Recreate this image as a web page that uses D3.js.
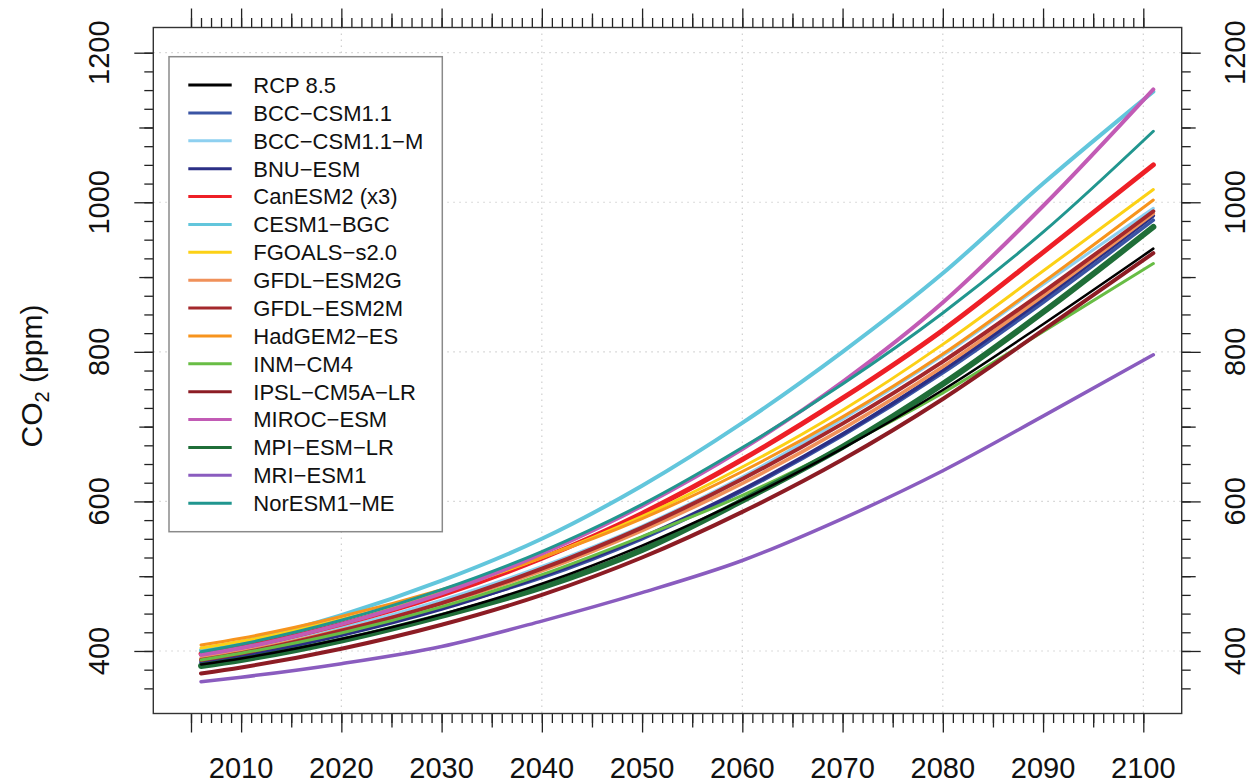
<!DOCTYPE html>
<html>
<head>
<meta charset="utf-8">
<script src="https://cdn.jsdelivr.net/npm/d3@7"></script>
<style>
  html, body { margin: 0; padding: 0; background: #fff; }
  svg { display: block; font-family: "Liberation Sans", Arial, Helvetica, sans-serif; }
</style>
</head>
<body>
<svg id="chart" width="1252" height="783"></svg>
<script>
// Sample years for each projection (CO2 in ppm)
const years = [2006, 2010, 2020, 2030, 2040, 2050, 2060, 2070, 2080, 2090, 2101];

const rcp85      = [382, 390, 416, 449, 490, 541, 602, 671, 749, 837, 938];
const bccCsm11   = [386, 395, 423, 458, 498, 550, 614, 688, 772, 866, 976];
const bccCsm11m  = [393, 402, 431, 468, 513, 567, 633, 710, 795, 890, 992];
const bnuEsm     = [384, 393, 421, 456, 500, 552, 616, 690, 775, 871, 982];
const canEsm2    = [396, 405, 436, 475, 524, 584, 656, 738, 829, 933, 1050];
const cesm1Bgc   = [401, 412, 448, 494, 550, 621, 705, 800, 905, 1025, 1148];
const fgoalsS2   = [404, 413, 442, 479, 525, 580, 646, 722, 810, 908, 1017];
const gfdlEsm2g  = [390, 399, 428, 463, 507, 561, 624, 697, 780, 875, 985];
const gfdlEsm2m  = [388, 397, 427, 464, 510, 565, 630, 704, 787, 880, 988];
const hadgem2Es  = [408, 417, 446, 482, 525, 577, 640, 713, 797, 893, 1003];
const inmCm4     = [388, 397, 424, 459, 502, 553, 608, 673, 745, 827, 918];
const ipslCm5aLr = [370, 378, 403, 435, 475, 525, 586, 656, 737, 829, 932];
const mirocEsm   = [395, 404, 436, 477, 530, 594, 670, 760, 866, 995, 1151];
const mpiEsmLr   = [380, 388, 414, 447, 485, 535, 601, 673, 757, 853, 967];
const mriEsm1    = [359, 365, 383, 406, 440, 478, 521, 577, 641, 714, 796];
const norEsm1Me  = [399, 409, 441, 482, 533, 596, 672, 757, 852, 960, 1095];

const seriesNames = [
  "RCP 8.5", "BCC\u2212CSM1.1", "BCC\u2212CSM1.1\u2212M", "BNU\u2212ESM", "CanESM2 (x3)",
  "CESM1\u2212BGC", "FGOALS\u2212s2.0", "GFDL\u2212ESM2G", "GFDL\u2212ESM2M", "HadGEM2\u2212ES",
  "INM\u2212CM4", "IPSL\u2212CM5A\u2212LR", "MIROC\u2212ESM", "MPI\u2212ESM\u2212LR", "MRI\u2212ESM1", "NorESM1\u2212ME"
];
const seriesValues = [
  rcp85, bccCsm11, bccCsm11m, bnuEsm, canEsm2, cesm1Bgc, fgoalsS2, gfdlEsm2g,
  gfdlEsm2m, hadgem2Es, inmCm4, ipslCm5aLr, mirocEsm, mpiEsmLr, mriEsm1, norEsm1Me
];
const seriesColors = [
  "#000000", "#3a54a4", "#8ed0f0", "#2b2f86", "#ee1f26", "#62c6dc", "#fcd116", "#f0915a",
  "#a4282c", "#f7941d", "#68bd45", "#8c1c24", "#c25bb5", "#1f6e38", "#8a5cbf", "#21968f"
];
// Models with a strong seasonal cycle read as wider bands
const seriesWidths = [2.5, 3.5, 3, 3.5, 5, 4, 3, 3.5, 4, 3, 3, 4, 4, 6, 3.5, 3];

const xTickLabels = [2010, 2020, 2030, 2040, 2050, 2060, 2070, 2080, 2090, 2100];
const yTickLabels = [400, 600, 800, 1000, 1200];
const xGrid = [2020, 2040, 2060, 2080, 2100];

// Plot frame
const box = { left: 153.3, right: 1181.7, top: 27.5, bottom: 713.5 };
const svg = d3.select("#chart");

const x = d3.scaleLinear().domain([2001.24, 2103.83]).range([box.left, box.right]);
const y = d3.scaleLinear().domain([316.4, 1233.7]).range([box.bottom, box.top]);

// Dotted reference grid
const grid = svg.append("g").attr("stroke", "#cfcfcf").attr("stroke-width", 1.2)
  .attr("stroke-dasharray", "1.5,4.5");
grid.selectAll("line.v").data(xGrid).join("line").attr("class", "v")
  .attr("x1", d => x(d)).attr("x2", d => x(d)).attr("y1", box.top).attr("y2", box.bottom);
grid.selectAll("line.h").data(yTickLabels).join("line").attr("class", "h")
  .attr("y1", d => y(d)).attr("y2", d => y(d)).attr("x1", box.left).attr("x2", box.right);

// Tick sets: yearly / 5-yearly / decadal on x, 25 / 100 / 200 ppm on y
const yearsAll = d3.range(2005, 2101);
const years5 = yearsAll.filter(d => d % 5 === 0 && d % 10 !== 0 && d !== 2005);
const years10 = [2005].concat(yearsAll.filter(d => d % 10 === 0));
const ppmAll = d3.range(350, 1201, 25);
const ppm100 = ppmAll.filter(d => d % 100 === 0 && d % 200 !== 0);
const ppm200 = ppmAll.filter(d => d % 200 === 0);

function tickLayer(axisFn, scale, values, size, transform) {
  const g = svg.append("g").attr("transform", transform)
    .call(axisFn(scale).tickValues(values).tickSize(size).tickSizeOuter(0).tickFormat(""));
  g.select(".domain").remove();
  g.selectAll(".tick line").attr("stroke", "#222").attr("stroke-width", 1.3);
  return g;
}
[[yearsAll, 9.5], [years5, 14], [years10, 19]].forEach(([v, s]) => {
  tickLayer(d3.axisBottom, x, v, s, `translate(0,${box.bottom})`);
  tickLayer(d3.axisTop, x, v, s, `translate(0,${box.top})`);
});
[[ppmAll, 9], [ppm100, 14], [ppm200, 19]].forEach(([v, s]) => {
  tickLayer(d3.axisLeft, y, v, s, `translate(${box.left},0)`);
  tickLayer(d3.axisRight, y, v, s, `translate(${box.right},0)`);
});

// Frame
svg.append("rect")
  .attr("x", box.left).attr("y", box.top)
  .attr("width", box.right - box.left).attr("height", box.bottom - box.top)
  .attr("fill", "none").attr("stroke", "#333").attr("stroke-width", 1.4);

// Tick labels
const labelColor = "#111";
svg.append("g").selectAll("text").data(xTickLabels).join("text")
  .attr("x", d => x(d)).attr("y", 778)
  .attr("text-anchor", "middle").attr("font-size", 29).attr("fill", labelColor)
  .text(d => d);
[[109.4], [1245.4]].forEach(([bx]) => {
  svg.append("g").selectAll("text").data(yTickLabels).join("text")
    .attr("transform", d => `translate(${bx},${y(d)}) rotate(-90)`)
    .attr("text-anchor", "middle").attr("font-size", 29).attr("fill", labelColor)
    .text(d => d);
});

// Axis title
const title = svg.append("text")
  .attr("transform", "translate(41.5,376) rotate(-90)")
  .attr("text-anchor", "middle").attr("font-size", 30).attr("fill", labelColor);
title.append("tspan").text("CO");
title.append("tspan").attr("font-size", 20).attr("dy", 7).text("2");
title.append("tspan").attr("dy", -7).text(" (ppm)");

// Projection lines
const line = d3.line()
  .x((d, i) => x(years[i]))
  .y(d => y(d))
  .curve(d3.curveMonotoneX);

const drawOrder = d3.range(1, seriesValues.length).concat([0]);
svg.append("g").attr("fill", "none").attr("stroke-linejoin", "round").attr("stroke-linecap", "round")
  .selectAll("path").data(drawOrder).join("path")
  .attr("d", i => line(seriesValues[i]))
  .attr("stroke", i => seriesColors[i])
  .attr("stroke-width", i => seriesWidths[i]);

// Legend
const legend = svg.append("g");
legend.append("rect")
  .attr("x", 169).attr("y", 56.7).attr("width", 273.3).attr("height", 475)
  .attr("fill", "#fff").attr("stroke", "#8a8a8a").attr("stroke-width", 1.5);
const rows = legend.selectAll("g.row").data(seriesNames).join("g").attr("class", "row")
  .attr("transform", (d, i) => `translate(0,${85 + i * 27.88})`);
rows.append("line")
  .attr("x1", 188.3).attr("x2", 231.7).attr("y1", 0).attr("y2", 0)
  .attr("stroke", (d, i) => seriesColors[i]).attr("stroke-width", 3);
rows.append("text")
  .attr("x", 253.3).attr("y", 7.9)
  .attr("font-size", 22).attr("fill", labelColor)
  .text(d => d);
</script>
</body>
</html>
